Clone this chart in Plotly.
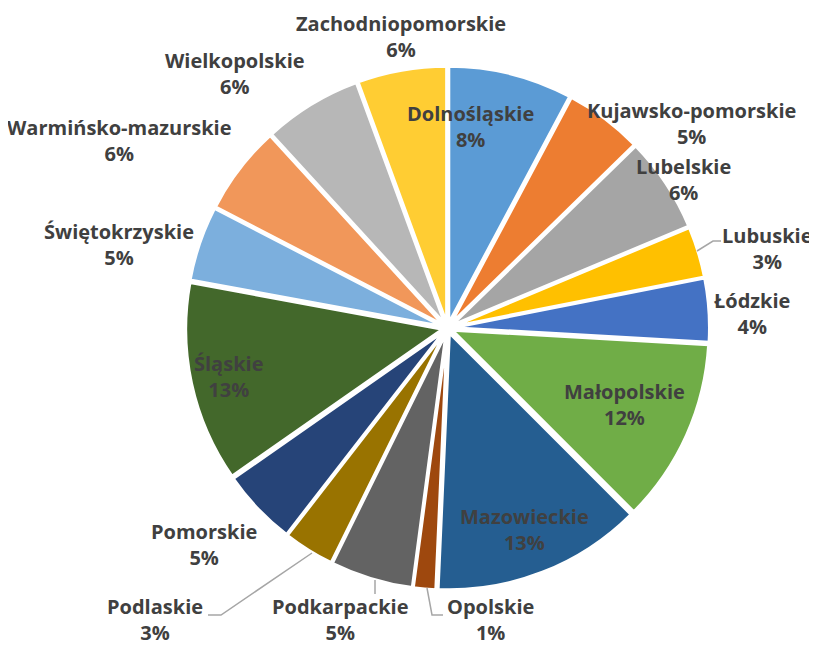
import plotly.graph_objects as go

regions = [
    "Dolnośląskie", "Kujawsko-pomorskie", "Lubelskie", "Lubuskie", "Łódzkie",
    "Małopolskie", "Mazowieckie", "Opolskie", "Podkarpackie", "Podlaskie",
    "Pomorskie", "Śląskie", "Świętokrzyskie", "Warmińsko-mazurskie",
    "Wielkopolskie", "Zachodniopomorskie",
]
shares = [7.8, 4.9, 6.0, 3.2, 4.0, 11.6, 13.2, 1.4, 5.2, 3.2, 4.8, 12.6, 4.7, 5.6, 6.2, 5.6]
colors = [
    "#5B9BD5", "#ED7D31", "#A5A5A5", "#FFC000", "#4472C4", "#70AD47",
    "#255E91", "#9E480E", "#636363", "#997300", "#264478", "#43682B",
    "#7CAFDD", "#F1975A", "#B7B7B7", "#FFCD33",
]

# label centres in screen pixels (page is offset by the 8px body margin)
label_pos = [
    (470, 126), (691, 124), (683, 180), (767, 249), (752, 314),
    (624, 404), (524, 529), (490, 619), (340, 619), (155, 619),
    (204, 544), (228, 376), (119, 244), (120, 141), (235, 73), (401, 36),
]
# leader lines, screen pixels
leaders = [
    [(697, 251), (713, 241), (721, 241)],
    [(312, 553), (221, 615), (208, 615)],
    [(375, 580), (375, 594)],
    [(427, 588), (432, 615), (443, 615)],
]

W, H, OFF = 817, 646, 8


def px(x, y):
    return (x - OFF) / W, 1 - (y - OFF) / H


total = sum(shares)

fig = go.Figure(
    go.Pie(
        labels=regions,
        values=shares,
        sort=False,
        direction="clockwise",
        rotation=0,
        marker=dict(colors=colors, line=dict(color="white", width=3)),
        pull=[0.02] * len(regions),
        textinfo="none",
        hoverinfo="label+percent",
        automargin=False,
        domain=dict(x=[0.188, 0.888], y=[0.099, 0.910]),
    )
)

for name, val, (lx, ly) in zip(regions, shares, label_pos):
    ax, ay = px(lx, ly)
    fig.add_annotation(
        x=ax, y=ay, xref="paper", yref="paper",
        text=f"{name}<br>{round(100 * val / total)}%",
        showarrow=False, xanchor="center", yanchor="middle",
        font=dict(family="Open Sans", size=20, color="#404040", weight="bold"),
    )

for pts in leaders:
    path = ""
    for i, (x, y) in enumerate(pts):
        fx, fy = px(x, y)
        path += ("M" if i == 0 else "L") + f"{fx},{fy} "
    fig.add_shape(
        type="path", path=path.strip(), xref="paper", yref="paper",
        line=dict(color="#A6A6A6", width=1.5),
    )

fig.update_layout(
    width=W,
    height=H,
    autosize=False,
    margin=dict(l=0, r=0, t=0, b=0, autoexpand=False),
    paper_bgcolor="white",
    showlegend=False,
)

fig.write_html("out.html")
